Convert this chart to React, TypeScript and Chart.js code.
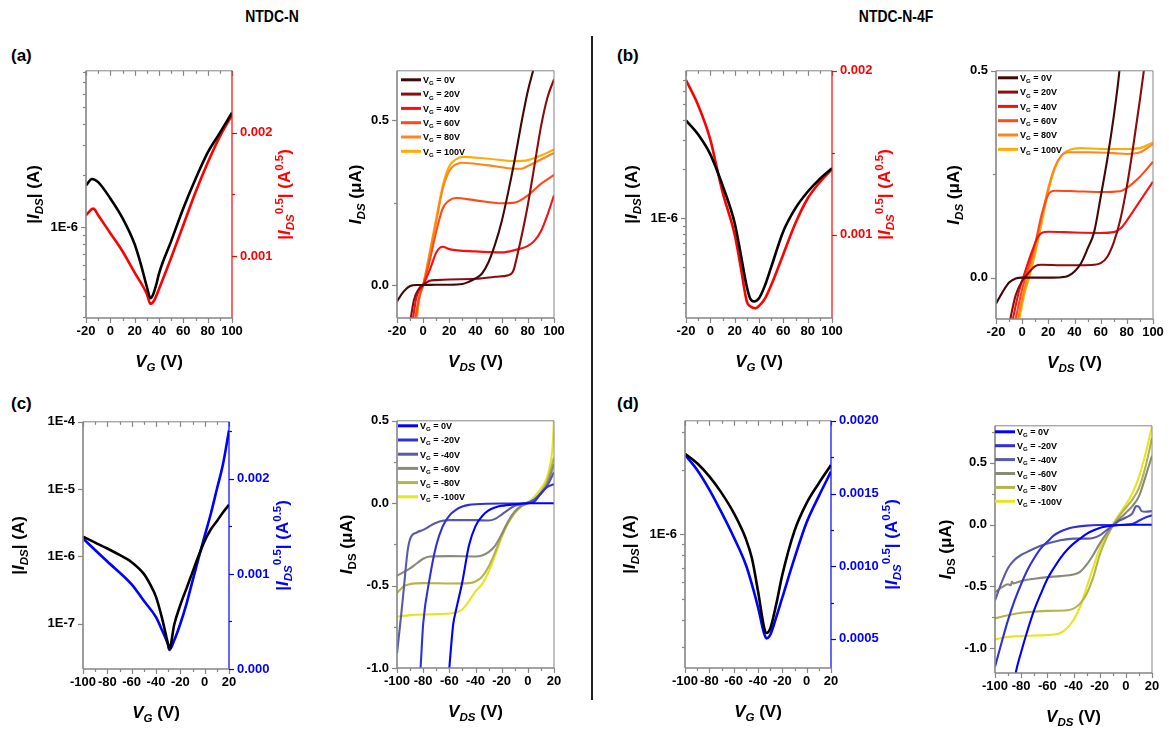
import React, { useEffect, useRef } from 'react';
import { Chart, registerables } from 'chart.js';

Chart.register(...registerables);

const FONT = "'Liberation Sans', Arial, Helvetica, sans-serif";

// ================= DATA =================
// ---- common tick labels ----
const X_POS_MAJOR = [-20, 0, 20, 40, 60, 80, 100];
const X_POS_LABELS = ['-20', '0', '20', '40', '60', '80', '100'];
const X_NEG_MAJOR = [-100, -80, -60, -40, -20, 0, 20];
const X_NEG_LABELS = ['-100', '-80', '-60', '-40', '-20', '0', '20'];

// ---- (a) NTDC-N transfer ----
const A_TR_VG_ABS = [-20, -15, -10, 0, 10, 20, 25, 30, 33, 35, 38, 40, 50, 60, 70, 80, 90, 100];
const A_TR_IDS_ABS = [1.75e-6, 1.91e-6, 1.83e-6, 1.47e-6, 1.13e-6, 7.96e-7, 6.12e-7, 4.5e-7, 3.86e-7, 4.03e-7, 4.7e-7, 5.37e-7, 8.3e-7, 1.29e-6, 1.91e-6, 2.72e-6, 3.54e-6, 4.64e-6];
const A_TR_VG_SQRT = [-20, -14, -10, 0, 10, 20, 30, 33, 36, 40, 50, 60, 70, 80, 90, 100];
const A_TR_IDS_SQRT = [0.001332, 0.001385, 0.001332, 0.001186, 0.00104, 0.000867, 0.000695, 0.000615, 0.000642, 0.000735, 0.000987, 0.001252, 0.001517, 0.001756, 0.001968, 0.002141];
const A_LOG_MAJOR = [1e-6];
const A_LOG_LABELS = ['1E-6'];
const A_LOG_MINOR = [3e-7, 4e-7, 5e-7, 6e-7, 7e-7, 8e-7, 9e-7, 2e-6, 3e-6, 4e-6, 5e-6, 6e-6, 7e-6, 8e-6];
const A_SQ_MAJOR = [0.001, 0.002];
const A_SQ_LABELS = ['0.001', '0.002'];
const A_SQ_MINOR = [0.0015];

// ---- (a) NTDC-N output ----
const OUT_POS_NAMES = ['0V', '20V', '40V', '60V', '80V', '100V'];
const A_OUT_X = [
  [-20, -15, -10, -5, 0, 10, 20, 30, 35, 40, 45, 50, 55, 60, 65, 70, 75, 80, 84, 87],
  [-11, -7, -3, 0, 5, 10, 20, 40, 55, 65, 68, 69.5, 71, 75, 80, 85, 90, 95, 100],
  [-9.5, -5, 0, 5, 10, 13, 15, 20, 40, 60, 70, 80, 85, 90, 95, 100],
  [-8, -3, 0, 5, 10, 15, 20, 25, 40, 60, 70, 80, 90, 100],
  [-7, -3, 0, 5, 10, 15, 20, 25, 30, 50, 70, 75, 80, 90, 100],
  [-6, -3, 0, 5, 10, 15, 20, 25, 30, 50, 70, 80, 90, 100],
];
const A_OUT_I = [
  [-0.05, -0.02, -0.003, 0, 0, 0.001, 0.001, 0.003, 0.01, 0.02, 0.035, 0.07, 0.124, 0.193, 0.282, 0.381, 0.49, 0.589, 0.65, 0.7],
  [-0.14, -0.045, -0.01, 0, 0.013, 0.015, 0.017, 0.019, 0.025, 0.03, 0.037, 0.05, 0.074, 0.144, 0.243, 0.361, 0.48, 0.569, 0.624],
  [-0.15, -0.035, 0, 0.045, 0.099, 0.114, 0.116, 0.109, 0.102, 0.099, 0.106, 0.119, 0.134, 0.163, 0.213, 0.272],
  [-0.15, -0.035, 0, 0.074, 0.163, 0.233, 0.257, 0.264, 0.257, 0.248, 0.25, 0.272, 0.307, 0.334],
  [-0.15, -0.04, 0, 0.094, 0.193, 0.292, 0.347, 0.366, 0.371, 0.363, 0.353, 0.353, 0.361, 0.381, 0.401],
  [-0.15, -0.04, 0, 0.099, 0.203, 0.302, 0.361, 0.381, 0.389, 0.383, 0.376, 0.379, 0.393, 0.411],
];
const A_OUT_Y_MAJOR = [0, 0.5];
const A_OUT_Y_LABELS = ['0.0', '0.5'];
const A_OUT_Y_MINOR = [0.25];

// ---- (b) NTDC-N-4F transfer ----
const B_TR_VG_ABS = [-20, -10, 0, 5, 10, 20, 25, 30, 33, 36, 40, 45, 50, 60, 70, 80, 90, 100];
const B_TR_IDS_ABS = [3.97e-6, 3.25e-6, 2.46e-6, 2.0e-6, 1.59e-6, 9.33e-7, 6.01e-7, 3.79e-7, 3.18e-7, 3.08e-7, 3.22e-7, 3.88e-7, 5.0e-7, 8.3e-7, 1.15e-6, 1.45e-6, 1.74e-6, 2.02e-6];
const B_TR_VG_SQRT = [-20, -10, 0, 5, 10, 20, 25, 30, 33, 37, 40, 45, 50, 60, 70, 80, 90, 100];
const B_TR_IDS_SQRT = [0.001944, 0.00179, 0.00158, 0.00142, 0.00126, 0.001, 0.0008, 0.00059, 0.00056, 0.00055, 0.000564, 0.00061, 0.00069, 0.00088, 0.00107, 0.00122, 0.00132, 0.0014];
const B_LOG_MAJOR = [1e-6];
const B_LOG_LABELS = ['1E-6'];
const B_LOG_MINOR = [3e-7, 4e-7, 5e-7, 6e-7, 7e-7, 8e-7, 9e-7, 2e-6, 3e-6, 4e-6, 5e-6, 6e-6, 7e-6];
const B_SQ_MAJOR = [0.001, 0.002];
const B_SQ_LABELS = ['0.001', '0.002'];
const B_SQ_MINOR = [0.0015];

// ---- (b) NTDC-N-4F output ----
const B_OUT_X = [
  [-20, -15, -10, -5, 0, 10, 20, 30, 35, 40, 45, 50, 55, 60, 65, 70, 74, 76],
  [-11, -5, 0, 5, 10, 15, 30, 45, 55, 60, 65, 70, 75, 80, 85, 90, 93, 95],
  [-9, -3, 2, 7, 12, 15, 20, 40, 60, 70, 75, 80, 90, 100],
  [-7, 0, 5, 10, 15, 20, 25, 40, 60, 75, 80, 90, 100],
  [-5, 0, 5, 10, 15, 20, 25, 30, 35, 50, 70, 80, 90, 100],
  [-4, 2, 5, 10, 15, 20, 25, 30, 35, 45, 60, 80, 90, 100],
];
const B_OUT_I = [
  [-0.063, -0.035, -0.012, -0.002, 0, 0, 0, 0.001, 0.004, 0.015, 0.035, 0.07, 0.11, 0.195, 0.285, 0.39, 0.49, 0.56],
  [-0.13, -0.043, -0.008, 0.012, 0.028, 0.031, 0.03, 0.03, 0.031, 0.035, 0.05, 0.085, 0.14, 0.22, 0.32, 0.43, 0.5, 0.55],
  [-0.13, -0.04, 0.012, 0.059, 0.098, 0.108, 0.111, 0.109, 0.108, 0.11, 0.118, 0.138, 0.185, 0.232],
  [-0.13, -0.028, 0.028, 0.083, 0.154, 0.201, 0.21, 0.209, 0.207, 0.209, 0.217, 0.244, 0.28],
  [-0.13, -0.05, 0.012, 0.075, 0.146, 0.217, 0.268, 0.295, 0.303, 0.303, 0.301, 0.299, 0.303, 0.323],
  [-0.13, -0.035, -0.004, 0.059, 0.134, 0.209, 0.264, 0.295, 0.307, 0.313, 0.311, 0.311, 0.313, 0.327],
];
const B_OUT_Y_MAJOR = [0, 0.5];
const B_OUT_Y_LABELS = ['0.0', '0.5'];
const B_OUT_Y_MINOR = [0.25];

// ---- (c) NTDC-N transfer (p-type) ----
const C_TR_VG_ABS = [-100, -90, -80, -70, -60, -50, -45, -40, -35, -30, -29, -25, -20, -15, -10, -5, 0, 5, 10, 15, 20];
const C_TR_IDS_ABS = [1.96e-6, 1.6e-6, 1.31e-6, 1.05e-6, 8.2e-7, 5.5e-7, 3.9e-7, 2.5e-7, 1.2e-7, 4.9e-8, 4.2e-8, 9.7e-8, 1.9e-7, 3.32e-7, 5.83e-7, 1.02e-6, 1.7e-6, 2.51e-6, 3.33e-6, 4.5e-6, 5.83e-6];
const C_TR_VG_SQRT = [-100, -80, -60, -50, -40, -35, -30, -29, -25, -20, -15, -10, -5, 0, 5, 10, 15, 20];
const C_TR_IDS_SQRT = [0.001372, 0.00113, 0.00089, 0.000717, 0.000545, 0.000407, 0.000252, 0.0002, 0.000303, 0.000476, 0.000683, 0.000924, 0.001166, 0.0014, 0.00163, 0.00189, 0.00215, 0.00251];
const C_LOG_MAJOR = [1e-7, 1e-6, 1e-5, 1e-4];
const C_LOG_LABELS = ['1E-7', '1E-6', '1E-5', '1E-4'];
const C_LOG_MINOR: number[] = [];
const C_SQ_MAJOR = [0, 0.001, 0.002];
const C_SQ_LABELS = ['0.000', '0.001', '0.002'];
const C_SQ_MINOR = [0.0005, 0.0015, 0.0025];

// ---- (c) NTDC-N output (p-type) ----
const OUT_NEG_NAMES = ['0V', '-20V', '-40V', '-60V', '-80V', '-100V'];
const C_OUT_X = [
  [-61, -60, -57, -55, -50, -45, -40, -35, -30, -25, -20, -10, 0, 20],
  [-83, -82, -80, -75, -70, -65, -60, -55, -50, -45, -40, -20, 0, 5, 10, 15, 20],
  [-100, -97, -95, -92, -90, -85, -80, -75, -70, -65, -60, -40, -30, -25, -20, -15, -10, -5, 0, 5, 10, 15, 20],
  [-100, -90, -85, -80, -75, -60, -40, -35, -30, -25, -20, -15, -10, -5, 0, 5, 10, 15, 20],
  [-100, -95, -90, -80, -60, -45, -40, -35, -30, -25, -20, -15, -10, -5, 0, 5, 10, 15, 20],
  [-100, -90, -70, -55, -50, -45, -40, -35, -30, -25, -20, -15, -10, -5, 0, 5, 10, 15, 19, 20],
];
const C_OUT_I = [
  [-1.1, -1.0, -0.733, -0.653, -0.475, -0.257, -0.139, -0.079, -0.044, -0.026, -0.016, -0.006, 0, 0],
  [-1.1, -1.0, -0.733, -0.455, -0.257, -0.139, -0.075, -0.04, -0.02, -0.01, -0.006, -0.002, 0, 0.01, 0.059, 0.099, 0.115],
  [-0.911, -0.693, -0.535, -0.297, -0.218, -0.178, -0.162, -0.139, -0.119, -0.107, -0.103, -0.103, -0.105, -0.095, -0.069, -0.04, -0.016, -0.006, 0.004, 0.024, 0.059, 0.109, 0.188],
  [-0.44, -0.396, -0.366, -0.337, -0.323, -0.321, -0.323, -0.317, -0.297, -0.257, -0.188, -0.109, -0.05, -0.016, 0, 0.02, 0.059, 0.119, 0.238],
  [-0.545, -0.505, -0.491, -0.485, -0.487, -0.485, -0.475, -0.446, -0.386, -0.297, -0.198, -0.119, -0.059, -0.02, 0, 0.024, 0.069, 0.139, 0.277],
  [-0.689, -0.679, -0.673, -0.663, -0.644, -0.594, -0.535, -0.491, -0.416, -0.317, -0.208, -0.119, -0.059, -0.02, 0.004, 0.04, 0.089, 0.168, 0.356, 0.52],
];
const C_OUT_Y_MAJOR = [-1.0, -0.5, 0, 0.5];
const C_OUT_Y_LABELS = ['-1.0', '-0.5', '0.0', '0.5'];
const C_OUT_Y_MINOR = [-0.75, -0.25, 0.25];

// ---- (d) NTDC-N-4F transfer (p-type) ----
const D_TR_VG = [-100, -90, -80, -70, -60, -50, -45, -40, -35, -33, -30, -25, -20, -10, 0, 10, 20];
const D_TR_IDS_ABS = [2.37e-6, 2.14e-6, 1.86e-6, 1.56e-6, 1.26e-6, 9.55e-7, 7.75e-7, 5.46e-7, 3.71e-7, 3.49e-7, 3.65e-7, 4.75e-7, 6.5e-7, 1.04e-6, 1.4e-6, 1.73e-6, 2.1e-6];
const D_TR_IDS_SQRT = [0.001767, 0.001662, 0.001527, 0.00137, 0.001201, 0.00101, 0.000875, 0.000718, 0.000538, 0.000504, 0.000527, 0.00065, 0.000785, 0.001055, 0.001302, 0.001482, 0.00165];
const D_LOG_MAJOR = [1e-6];
const D_LOG_LABELS = ['1E-6'];
const D_LOG_MINOR = [3e-7, 4e-7, 5e-7, 6e-7, 7e-7, 8e-7, 9e-7, 2e-6, 3e-6];
const D_SQ_MAJOR = [0.0005, 0.001, 0.0015, 0.002];
const D_SQ_LABELS = ['0.0005', '0.0010', '0.0015', '0.0020'];
const D_SQ_MINOR = [0.00075, 0.00125, 0.00175];

// ---- (d) NTDC-N-4F output (p-type) ----
const D_OUT_X = [
  [-85, -84, -80, -75, -70, -65, -60, -55, -50, -45, -40, -35, -30, -25, -20, -10, 0, 20],
  [-100, -95, -90, -85, -80, -75, -70, -65, -60, -55, -50, -45, -40, -30, -20, 0, 5, 10, 15, 20],
  [-100, -95, -90, -85, -80, -75, -70, -60, -50, -40, -30, -25, -20, -15, -10, -5, 0, 5, 8, 10, 12, 15, 20],
  [-100, -95, -90, -88, -87, -86, -80, -70, -60, -50, -40, -35, -30, -25, -20, -15, -10, -5, 0, 5, 10, 15, 20],
  [-100, -90, -80, -60, -45, -40, -35, -30, -25, -20, -15, -10, -5, 0, 5, 10, 15, 20],
  [-100, -90, -70, -55, -50, -45, -40, -35, -30, -25, -20, -15, -10, -5, 0, 5, 10, 15, 20],
];
const D_OUT_I = [
  [-1.25, -1.19, -1.03, -0.85, -0.69, -0.56, -0.44, -0.35, -0.27, -0.205, -0.153, -0.113, -0.074, -0.047, -0.026, -0.008, 0, 0],
  [-1.15, -0.955, -0.77, -0.613, -0.48, -0.363, -0.27, -0.192, -0.139, -0.087, -0.055, -0.034, -0.021, -0.008, -0.003, 0, 0.005, 0.032, 0.058, 0.076],
  [-0.613, -0.468, -0.35, -0.284, -0.245, -0.218, -0.192, -0.153, -0.126, -0.113, -0.113, -0.108, -0.087, -0.047, -0.008, 0.032, 0.058, 0.092, 0.15, 0.145, 0.11, 0.105, 0.11],
  [-0.547, -0.508, -0.482, -0.49, -0.46, -0.475, -0.455, -0.437, -0.424, -0.416, -0.403, -0.382, -0.324, -0.245, -0.153, -0.074, -0.008, 0.045, 0.097, 0.15, 0.229, 0.387, 0.558],
  [-0.758, -0.732, -0.713, -0.697, -0.692, -0.679, -0.639, -0.561, -0.429, -0.245, -0.113, -0.008, 0.071, 0.137, 0.203, 0.295, 0.466, 0.703],
  [-0.929, -0.908, -0.897, -0.889, -0.876, -0.837, -0.771, -0.666, -0.508, -0.35, -0.192, -0.087, 0.005, 0.084, 0.163, 0.255, 0.387, 0.571, 0.795],
];
const D_OUT_Y_MAJOR = [-1.0, -0.5, 0, 0.5];
const D_OUT_Y_LABELS = ['-1.0', '-0.5', '0.0', '0.5'];
const D_OUT_Y_MINOR = [-0.75, -0.25, 0.25, 0.75];

// ================= STYLE =================
const POS_COLORS = ['#420808', '#8a0c0c', '#f81010', '#ff4a16', '#ff8420', '#ffab00'];
const NEG_COLORS = ['#0000ff', '#3030d8', '#5a5aa6', '#8a8a78', '#b4b44a', '#e6e620'];
const FRAME = '#858585';

type Seg = { t: string; i?: boolean; s?: 'sub' | 'sup' };

function segFont(size: number, italic: boolean) {
  return `${italic ? 'italic ' : ''}bold ${size}px ${FONT}`;
}
function measureSegs(ctx: CanvasRenderingContext2D, segs: Seg[], size: number) {
  const sm = size * 0.68;
  let w = 0;
  for (const g of segs) {
    ctx.font = segFont(g.s ? sm : size, !!g.i);
    w += ctx.measureText(g.t).width;
  }
  return w;
}
function drawSegs(ctx: CanvasRenderingContext2D, segs: Seg[], size: number, x: number, base: number) {
  const sm = size * 0.68;
  let cx = x;
  for (const g of segs) {
    if (g.s === 'sub') {
      ctx.font = segFont(sm, !!g.i);
      ctx.fillText(g.t, cx, base + size * 0.24);
    } else if (g.s === 'sup') {
      ctx.font = segFont(sm, !!g.i);
      ctx.fillText(g.t, cx, base - size * 0.42);
    } else {
      ctx.font = segFont(size, !!g.i);
      ctx.fillText(g.t, cx, base);
    }
    cx += ctx.measureText(g.t).width;
  }
}
function drawRich(ctx: CanvasRenderingContext2D, segs: Seg[], size: number, cx: number, cy: number, rotate: boolean, color: string) {
  ctx.save();
  ctx.fillStyle = color;
  ctx.textAlign = 'left';
  ctx.textBaseline = 'alphabetic';
  const w = measureSegs(ctx, segs, size);
  ctx.translate(cx, cy);
  if (rotate) ctx.rotate(-Math.PI / 2);
  drawSegs(ctx, segs, size, -w / 2, size * 0.36);
  ctx.restore();
}

const extrasPlugin = {
  id: 'extras',
  afterDraw(chart: any) {
    const cfg = chart.options.plugins.extras;
    if (!cfg) return;
    const ctx: CanvasRenderingContext2D = chart.ctx;
    const a = chart.chartArea;
    ctx.save();
    for (const t of cfg.ticks) {
      const sc = chart.scales[t.scale];
      ctx.strokeStyle = t.color;
      ctx.lineWidth = 1.2;
      const draw = (v: number, len: number) => {
        const p = Math.round(sc.getPixelForValue(v)) + 0.5;
        ctx.beginPath();
        if (t.side === 'left') { ctx.moveTo(a.left, p); ctx.lineTo(a.left - len, p); }
        if (t.side === 'right') { ctx.moveTo(a.right, p); ctx.lineTo(a.right + len, p); }
        if (t.side === 'bottom') { ctx.moveTo(p, a.bottom); ctx.lineTo(p, a.bottom + len); }
        if (t.side === 'top') { ctx.moveTo(p, a.top); ctx.lineTo(p, a.top + len); }
        ctx.stroke();
      };
      t.major.forEach((v: number) => draw(v, 5));
      t.minor.forEach((v: number) => draw(v, 3));
    }
    const line = (x1: number, y1: number, x2: number, y2: number, c: string, w: number) => {
      ctx.strokeStyle = c;
      ctx.lineWidth = w;
      ctx.beginPath();
      ctx.moveTo(x1, y1);
      ctx.lineTo(x2, y2);
      ctx.stroke();
    };
    line(a.left, a.top, a.right, a.top, FRAME, 1);
    line(a.right, a.top, a.right, a.bottom, cfg.rightColor || FRAME, cfg.rightColor ? 1.2 : 1);
    line(a.left, a.bottom, a.right, a.bottom, FRAME, 1.6);
    line(a.left, a.top, a.left, a.bottom, FRAME, 1.6);
    const cy = (a.top + a.bottom) / 2;
    const cx = (a.left + a.right) / 2;
    drawRich(ctx, cfg.leftTitle, 17, a.left + cfg.leftOff, cy, true, '#000');
    if (cfg.rightTitle) drawRich(ctx, cfg.rightTitle, 17, a.right + cfg.rightOff, cy, true, cfg.rightColor);
    drawRich(ctx, cfg.bottomTitle, 17, cx, a.bottom + cfg.bottomOff - 17 * 0.36, false, '#000');
    if (cfg.legend) {
      const lg = cfg.legend;
      lg.names.forEach((nm: string, i: number) => {
        const y = a.top + lg.dy + i * lg.step;
        const x = a.left + lg.dx;
        ctx.strokeStyle = lg.colors[i];
        ctx.lineWidth = 3;
        ctx.beginPath();
        ctx.moveTo(x, y);
        ctx.lineTo(x + 20, y);
        ctx.stroke();
        ctx.fillStyle = '#000';
        ctx.textAlign = 'left';
        ctx.textBaseline = 'alphabetic';
        drawSegs(ctx, [{ t: 'V' }, { t: 'G', s: 'sub' }, { t: ' = ' + nm }], 9, x + 22, y + 3.3);
      });
    }
    ctx.restore();
  },
};

function xScale(min: number, max: number, major: number[], labels: string[], B: number) {
  return {
    type: 'linear', min, max, position: 'bottom',
    grid: { display: false, drawTicks: false }, border: { display: false },
    ticks: {
      autoSkip: false, maxRotation: 0, minRotation: 0, padding: 6, color: '#000',
      font: { family: FONT, size: 13, weight: 'bold' },
      callback: (_v: any, i: number) => labels[i],
    },
    afterBuildTicks: (s: any) => { s.ticks = major.map((v) => ({ value: v })); },
    afterFit: (s: any) => { s.height = B; },
  };
}
function yScale(type: string, min: number, max: number, major: number[], labels: string[], W: number, pos: string, color: string) {
  return {
    type, min, max, position: pos,
    grid: { display: false, drawTicks: false }, border: { display: false },
    ticks: {
      autoSkip: false, padding: 8, color,
      font: { family: FONT, size: 13, weight: 'bold' },
      callback: (_v: any, i: number) => labels[i],
    },
    afterBuildTicks: (s: any) => { s.ticks = major.map((v) => ({ value: v })); },
    afterFit: (s: any) => { s.width = W; },
  };
}
function pts(xs: number[], ys: number[]) {
  return xs.map((x, i) => ({ x, y: ys[i] }));
}
function mids(arr: number[]) {
  const r: number[] = [];
  for (let i = 0; i < arr.length - 1; i++) r.push((arr[i] + arr[i + 1]) / 2);
  return r;
}

type Rect = [number, number, number, number];

function transferPanel(o: any) {
  const L = 85, R = 80, T = 12, B = 62;
  const [x0, y0, x1, y1] = o.rect as Rect;
  const w = L + (x1 - x0) + R, h = T + (y1 - y0) + B;
  const config = () => ({
    type: 'line',
    data: {
      datasets: [
        { data: pts(o.absX, o.absY), yAxisID: 'y', borderColor: '#000', borderWidth: 2.6, pointRadius: 0, cubicInterpolationMode: 'monotone', clip: 0, fill: false },
        { data: pts(o.sqX, o.sqY), yAxisID: 'y2', borderColor: o.color, borderWidth: 2.6, pointRadius: 0, cubicInterpolationMode: 'monotone', clip: 0, fill: false },
      ],
    },
    options: {
      responsive: false, animation: false, devicePixelRatio: 1, events: [],
      layout: { padding: { left: 0, right: 0, top: T, bottom: 0 } },
      scales: {
        x: xScale(o.xMin, o.xMax, o.xMajor, o.xLabels, B),
        y: yScale('logarithmic', o.yMin, o.yMax, o.yMajor, o.yLabels, L, 'left', '#000'),
        y2: yScale('linear', o.y2Min, o.y2Max, o.y2Major, o.y2Labels, R, 'right', o.color),
      },
      plugins: {
        legend: { display: false }, tooltip: { enabled: false },
        extras: {
          rightColor: o.color,
          ticks: [
            { scale: 'x', side: 'bottom', major: o.xMajor, minor: mids(o.xMajor), color: FRAME },
            { scale: 'x', side: 'top', major: o.xMajor, minor: mids(o.xMajor), color: FRAME },
            { scale: 'y', side: 'left', major: o.yMajor, minor: o.yMinor, color: FRAME },
            { scale: 'y2', side: 'right', major: o.y2Major, minor: o.y2Minor, color: o.color },
          ],
          leftTitle: [{ t: '|' }, { t: 'I', i: true }, { t: 'DS', s: 'sub', i: true }, { t: '| (A)' }],
          rightTitle: [{ t: '|' }, { t: 'I', i: true }, { t: 'DS', s: 'sub', i: true }, { t: '0.5', s: 'sup' }, { t: '| (A' }, { t: '0.5', s: 'sup' }, { t: ')' }],
          bottomTitle: [{ t: 'V', i: true }, { t: 'G', s: 'sub', i: true }, { t: ' (V)' }],
          leftOff: o.leftOff, rightOff: o.rightOff, bottomOff: 49,
        },
      },
    },
    plugins: [extrasPlugin],
  });
  return { x: x0 - L, y: y0 - T, w, h, config };
}

function outputPanel(o: any) {
  const L = 70, R = 22, T = 12, B = 62;
  const [x0, y0, x1, y1] = o.rect as Rect;
  const w = L + (x1 - x0) + R, h = T + (y1 - y0) + B;
  const config = () => ({
    type: 'line',
    data: {
      datasets: o.xs.map((xs: number[], i: number) => ({
        data: pts(xs, o.ys[i]), borderColor: o.colors[i], borderWidth: 2.1, pointRadius: 0,
        cubicInterpolationMode: 'monotone', clip: 0, fill: false,
      })),
    },
    options: {
      responsive: false, animation: false, devicePixelRatio: 1, events: [],
      layout: { padding: { left: 0, right: R, top: T, bottom: 0 } },
      scales: {
        x: xScale(o.xMin, o.xMax, o.xMajor, o.xLabels, B),
        y: yScale('linear', o.yMin, o.yMax, o.yMajor, o.yLabels, L, 'left', '#000'),
      },
      plugins: {
        legend: { display: false }, tooltip: { enabled: false },
        extras: {
          ticks: [
            { scale: 'x', side: 'bottom', major: o.xMajor, minor: mids(o.xMajor), color: FRAME },
            { scale: 'y', side: 'left', major: o.yMajor, minor: o.yMinor, color: FRAME },
          ],
          leftTitle: [{ t: 'I', i: true }, { t: 'DS', s: 'sub', i: o.italicSub }, { t: ' (\u03bcA)' }],
          bottomTitle: [{ t: 'V', i: true }, { t: 'DS', s: 'sub', i: true }, { t: ' (V)' }],
          leftOff: o.leftOff, bottomOff: 49,
          legend: { names: o.names, colors: o.colors, dx: o.lgdx, dy: o.lgdy, step: o.lgstep },
        },
      },
    },
    plugins: [extrasPlugin],
  });
  return { x: x0 - L, y: y0 - T, w, h, config };
}

const PANELS = [
  transferPanel({
    rect: [86, 67, 232, 318], xMin: -20, xMax: 100, xMajor: X_POS_MAJOR, xLabels: X_POS_LABELS,
    yMin: 2.96e-7, yMax: 8.14e-6, yMajor: A_LOG_MAJOR, yLabels: A_LOG_LABELS, yMinor: A_LOG_MINOR,
    y2Min: 0.0005, y2Max: 0.0025, y2Major: A_SQ_MAJOR, y2Labels: A_SQ_LABELS, y2Minor: A_SQ_MINOR,
    absX: A_TR_VG_ABS, absY: A_TR_IDS_ABS, sqX: A_TR_VG_SQRT, sqY: A_TR_IDS_SQRT, color: '#ff0000',
    leftOff: -53, rightOff: 52,
  }),
  outputPanel({
    rect: [397, 67, 554, 318], xMin: -20, xMax: 100, xMajor: X_POS_MAJOR, xLabels: X_POS_LABELS,
    yMin: -0.1, yMax: 0.65, yMajor: A_OUT_Y_MAJOR, yLabels: A_OUT_Y_LABELS, yMinor: A_OUT_Y_MINOR,
    xs: A_OUT_X, ys: A_OUT_I, colors: POS_COLORS, names: OUT_POS_NAMES, italicSub: true,
    leftOff: -42, lgdx: 4, lgdy: 9, lgstep: 14.3,
  }),
  transferPanel({
    rect: [686, 67, 832, 318], xMin: -20, xMax: 100, xMajor: X_POS_MAJOR, xLabels: X_POS_LABELS,
    yMin: 2.44e-7, yMax: 8.0e-6, yMajor: B_LOG_MAJOR, yLabels: B_LOG_LABELS, yMinor: B_LOG_MINOR,
    y2Min: 0.00049, y2Max: 0.002, y2Major: B_SQ_MAJOR, y2Labels: B_SQ_LABELS, y2Minor: B_SQ_MINOR,
    absX: B_TR_VG_ABS, absY: B_TR_IDS_ABS, sqX: B_TR_VG_SQRT, sqY: B_TR_IDS_SQRT, color: '#ff0000',
    leftOff: -55, rightOff: 52,
  }),
  outputPanel({
    rect: [996, 67, 1153, 319], xMin: -20, xMax: 100, xMajor: X_POS_MAJOR, xLabels: X_POS_LABELS,
    yMin: -0.1, yMax: 0.5, yMajor: B_OUT_Y_MAJOR, yLabels: B_OUT_Y_LABELS, yMinor: B_OUT_Y_MINOR,
    xs: B_OUT_X, ys: B_OUT_I, colors: POS_COLORS, names: OUT_POS_NAMES, italicSub: true,
    leftOff: -43, lgdx: 2, lgdy: 7, lgstep: 14.3,
  }),
  transferPanel({
    rect: [83, 418, 229, 669], xMin: -100, xMax: 20, xMajor: X_NEG_MAJOR, xLabels: X_NEG_LABELS,
    yMin: 2.12e-8, yMax: 1e-4, yMajor: C_LOG_MAJOR, yLabels: C_LOG_LABELS, yMinor: C_LOG_MINOR,
    y2Min: 0, y2Max: 0.0026, y2Major: C_SQ_MAJOR, y2Labels: C_SQ_LABELS, y2Minor: C_SQ_MINOR,
    absX: C_TR_VG_ABS, absY: C_TR_IDS_ABS, sqX: C_TR_VG_SQRT, sqY: C_TR_IDS_SQRT, color: '#0000ff',
    leftOff: -65, rightOff: 53,
  }),
  outputPanel({
    rect: [397, 417, 554, 668], xMin: -100, xMax: 20, xMajor: X_NEG_MAJOR, xLabels: X_NEG_LABELS,
    yMin: -1.0, yMax: 0.5, yMajor: C_OUT_Y_MAJOR, yLabels: C_OUT_Y_LABELS, yMinor: C_OUT_Y_MINOR,
    xs: C_OUT_X, ys: C_OUT_I, colors: NEG_COLORS, names: OUT_NEG_NAMES, italicSub: false,
    leftOff: -51, lgdx: 1, lgdy: 5, lgstep: 14.2,
  }),
  transferPanel({
    rect: [685, 417, 831, 668], xMin: -100, xMax: 20, xMajor: X_NEG_MAJOR, xLabels: X_NEG_LABELS,
    yMin: 2.4e-7, yMax: 3.37e-6, yMajor: D_LOG_MAJOR, yLabels: D_LOG_LABELS, yMinor: D_LOG_MINOR,
    y2Min: 0.0003, y2Max: 0.002, y2Major: D_SQ_MAJOR, y2Labels: D_SQ_LABELS, y2Minor: D_SQ_MINOR,
    absX: D_TR_VG, absY: D_TR_IDS_ABS, sqX: D_TR_VG, sqY: D_TR_IDS_SQRT, color: '#0000ff',
    leftOff: -56, rightOff: 60,
  }),
  outputPanel({
    rect: [995, 422, 1152, 673], xMin: -100, xMax: 20, xMajor: X_NEG_MAJOR, xLabels: X_NEG_LABELS,
    yMin: -1.2, yMax: 0.8, yMajor: D_OUT_Y_MAJOR, yLabels: D_OUT_Y_LABELS, yMinor: D_OUT_Y_MINOR,
    xs: D_OUT_X, ys: D_OUT_I, colors: NEG_COLORS, names: OUT_NEG_NAMES, italicSub: false,
    leftOff: -50, lgdx: 0, lgdy: 6, lgstep: 13.9,
  }),
];

function Panel({ spec }: { spec: any }) {
  const ref = useRef<HTMLCanvasElement>(null);
  useEffect(() => {
    const chart = new Chart(ref.current as HTMLCanvasElement, spec.config() as any);
    return () => chart.destroy();
  }, []);
  return (
    <canvas
      ref={ref}
      width={spec.w}
      height={spec.h}
      style={{ position: 'absolute', left: spec.x, top: spec.y, width: spec.w, height: spec.h }}
    />
  );
}

const labelStyle: React.CSSProperties = {
  position: 'absolute', fontFamily: FONT, fontWeight: 'bold', fontSize: 17, lineHeight: '20px', color: '#000', whiteSpace: 'nowrap',
};
const headStyle: React.CSSProperties = {
  ...labelStyle, width: 200, textAlign: 'center', transform: 'scaleX(0.82)',
};

export default function App() {
  return (
    <div style={{ position: 'fixed', left: 0, top: 0, width: 1169, height: 729, background: '#fff', overflow: 'hidden' }}>
      <div style={{ ...headStyle, left: 272 - 100, top: 7 }}>NTDC-N</div>
      <div style={{ ...headStyle, left: 896 - 100, top: 7 }}>NTDC-N-4F</div>
      <div style={{ position: 'absolute', left: 591, top: 36, width: 1.5, height: 664, background: '#222' }} />
      <div style={{ ...labelStyle, left: 11, top: 46 }}>(a)</div>
      <div style={{ ...labelStyle, left: 617, top: 46 }}>(b)</div>
      <div style={{ ...labelStyle, left: 11, top: 394 }}>(c)</div>
      <div style={{ ...labelStyle, left: 617, top: 394 }}>(d)</div>
      {PANELS.map((p, i) => (
        <Panel key={i} spec={p} />
      ))}
    </div>
  );
}
